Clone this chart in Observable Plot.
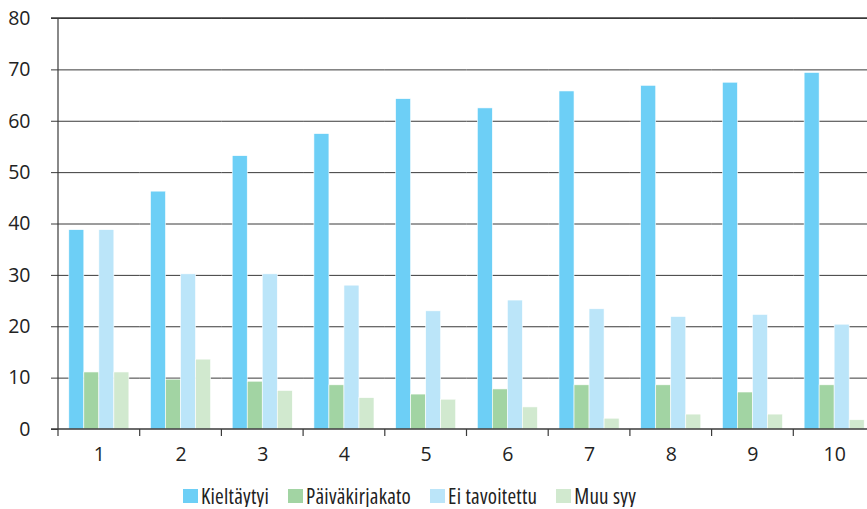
<!DOCTYPE html>
<html>
<head>
<meta charset="utf-8">
<script src="https://cdn.jsdelivr.net/npm/d3@7"></script>
<script src="https://cdn.jsdelivr.net/npm/@observablehq/plot@0.6"></script>
<style>
  body { margin: 0; background: white; overflow: hidden; }
  #legend { display: flex; align-items: center; margin-top: 15px; padding-left: 183px;
            font-family: "Open Sans", sans-serif; font-stretch: 75%; font-size: 21px; letter-spacing: 0.25px; color: #222; height: 22px; }
  #legend .item { display: flex; align-items: center; margin-right: 19px; }
  #legend .sw { width: 15px; height: 14px; margin-right: 3px; }
</style>
</head>
<body>
<div id="chart"></div>
<div id="legend"></div>
<script>
const groups = ["1", "2", "3", "4", "5", "6", "7", "8", "9", "10"];
const series = ["Kieltäytyi", "Päiväkirjakato", "Ei tavoitettu", "Muu syy"];
const kieltaytyi     = [38.8, 46.3, 53.2, 57.5, 64.3, 62.5, 65.8, 66.9, 67.5, 69.4];
const paivakirjakato = [11.1,  9.7,  9.3,  8.6,  6.8,  7.8,  8.6,  8.6,  7.2,  8.6];
const eiTavoitettu   = [38.8, 30.2, 30.2, 28.0, 23.0, 25.1, 23.4, 21.9, 22.3, 20.4];
const muuSyy         = [11.1, 13.6,  7.5,  6.1,  5.8,  4.3,  2.1,  2.9,  2.9,  1.8];
const yTicks = [0, 10, 20, 30, 40, 50, 60, 70, 80];
const colors = ["#6dcff6", "#a2d4a3", "#bbe5f9", "#d1e9cf"];

const valuesBySeries = [kieltaytyi, paivakirjakato, eiTavoitettu, muuSyy];
const data = [];
groups.forEach((g, i) => {
  series.forEach((s, j) => data.push({group: g, series: s, value: valuesBySeries[j][i]}));
});

const chart = Plot.plot({
  width: 867,
  height: 470,
  marginLeft: 58,
  marginRight: -8,
  marginTop: 18,
  marginBottom: 41,
  style: {fontFamily: "'Open Sans', sans-serif", fontSize: "19.5px", color: "#222", background: "white", overflow: "hidden"},
  fx: {domain: groups, padding: 0, round: false, label: null},
  x: {domain: series, paddingInner: 0, paddingOuter: 0.72, round: false, axis: null},
  y: {domain: [0, 80], label: null},
  color: {domain: series, range: colors},
  marks: [
    Plot.ruleY(yTicks.filter(d => d > 0), {stroke: "#3a3a3a", strokeWidth: 1}),
    Plot.barY(data, {fx: "group", x: "series", y: "value", fill: "series", stroke: "white", strokeWidth: 0.6}),
    Plot.axisY(yTicks, {tickSize: 7, tickPadding: 21, stroke: "#3a3a3a", label: null}),
    Plot.axisFx({anchor: "bottom", tickSize: 0, tickPadding: 18, label: null})
  ]
});

document.getElementById("chart").appendChild(chart);

// axis lines and group-boundary ticks from the library's scales
const fx = chart.scale("fx");
const y = chart.scale("y");
const bounds = groups.map(g => fx.apply(g));
bounds.push(fx.apply(groups[groups.length - 1]) + fx.bandwidth);
const y0 = y.apply(0), yTop = y.apply(80);
const g = d3.select(chart).append("g").attr("stroke", "#3a3a3a").attr("fill", "none");
g.append("line").attr("x1", bounds[0]).attr("x2", bounds[0]).attr("y1", yTop).attr("y2", y0 + 7).attr("stroke-width", 1.2);
g.append("line").attr("x1", bounds[0] - 7).attr("x2", bounds[bounds.length - 1]).attr("y1", y0).attr("y2", y0).attr("stroke-width", 1.5);
g.append("line").attr("x1", bounds[0] - 7).attr("x2", bounds[bounds.length - 1]).attr("y1", yTop).attr("y2", yTop).attr("stroke-width", 1.5);
bounds.slice(1, -1).forEach(b => {
  g.append("line").attr("x1", b).attr("x2", b).attr("y1", y0).attr("y2", y0 + 7).attr("stroke-width", 1.2);
});

// legend
const legend = d3.select("#legend");
series.forEach((s, i) => {
  const item = legend.append("div").attr("class", "item");
  item.append("div").attr("class", "sw").style("background", colors[i]);
  item.append("span").text(s);
});
</script>
</body>
</html>
